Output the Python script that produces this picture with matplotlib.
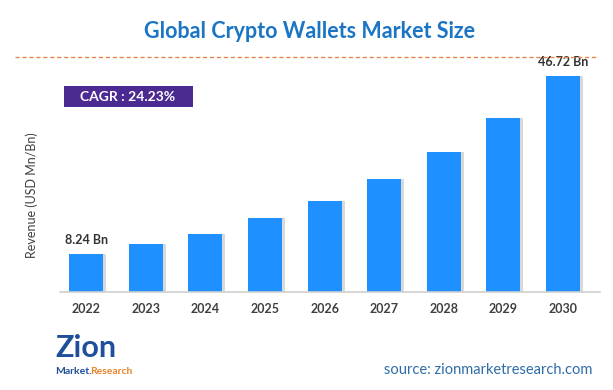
import matplotlib
matplotlib.use("Agg")
import matplotlib.pyplot as plt
from matplotlib.patches import Rectangle

years = ["2022", "2023", "2024", "2025", "2026", "2027", "2028", "2029", "2030"]
revenue = [8.24, 10.3, 12.6, 15.9, 19.6, 24.4, 30.3, 37.6, 46.72]
first_label = "8.24 Bn"
last_label = "46.72 Bn"
cagr_text = "CAGR : 24.23%"
title = "Global Crypto Wallets Market Size"
ylabel = "Revenue (USD Mn/Bn)"
source = "source: zionmarketresearch.com"

plt.rcParams['font.family'] = ['Lato', 'DejaVu Sans']

W, H = 613, 390
fig = plt.figure(figsize=(W / 100, H / 100), dpi=100)
fig.patch.set_facecolor("white")

ax = fig.add_axes([60 / W, 1 - 292 / H, 540 / W, (292 - 57) / H])
x = list(range(len(years)))
# shadow
ax.bar([i + 0.05 for i in x], revenue, width=0.57, color="#b5b5b5", alpha=0.5, zorder=1)
ax.bar(x, revenue, width=0.57, color="#1E90FF", zorder=2)
ax.set_xlim(-0.44, 8.62)
ax.set_ylim(0, 46.72 * 235 / 216)
ax.set_xticks(x)
ax.set_xticklabels(years, fontsize=9, fontweight="bold", color="#404040")
ax.tick_params(axis="x", length=0, pad=8)
ax.set_yticks([])
for s in ["top", "right", "left"]:
    ax.spines[s].set_visible(False)
ax.spines["bottom"].set_color("#d0d0d0")
ax.spines["bottom"].set_linewidth(1.2)

ax.annotate(first_label, (x[0], revenue[0]), xytext=(0, 6), textcoords="offset points",
            ha="center", va="bottom", fontsize=9, fontweight="bold", color="#333333")
ax.annotate(last_label, (x[-1], revenue[-1]), xytext=(0, 6), textcoords="offset points",
            ha="center", va="bottom", fontsize=9, fontweight="bold", color="#333333")

fig.text(310 / W, 1 - 32 / H, title, ha="center", va="center", fontsize=15.5,
         fontweight="bold", color="#1B75C4")

fig.add_artist(plt.Line2D([15 / W, 598 / W], [1 - 57 / H, 1 - 57 / H], color="#E8854A",
                          lw=1.0, ls=(0, (3, 2))))

fig.add_artist(Rectangle((64 / W, 1 - 107 / H), 129 / W, 21 / H, facecolor="#4B2A91",
                         edgecolor="none", transform=fig.transFigure))
fig.text(128 / W, 1 - 97 / H, cagr_text, ha="center", va="center", fontsize=10,
         fontweight="bold", color="white")

fig.text(32 / W, 1 - 195 / H, ylabel, rotation=90, ha="center", va="center",
         fontsize=9, color="#404040")

# logo approximation
fig.text(55 / W, 1 - 348 / H, "Zion", ha="left", va="center", fontsize=22,
         fontweight="bold", color="#1F4E9A")
fig.text(55 / W, 1 - 372 / H, "Market.", ha="left", va="center", fontsize=7.5,
         fontweight="bold", color="#1F4E9A")
fig.text(90 / W, 1 - 372 / H, "Research", ha="left", va="center", fontsize=7.5,
         fontweight="bold", color="#E8832A")

fig.text(592 / W, 1 - 370 / H, source, ha="right", va="center", fontsize=10.5,
         color="#2E6DA8")

fig.savefig("out.png", dpi=100, facecolor="white")
